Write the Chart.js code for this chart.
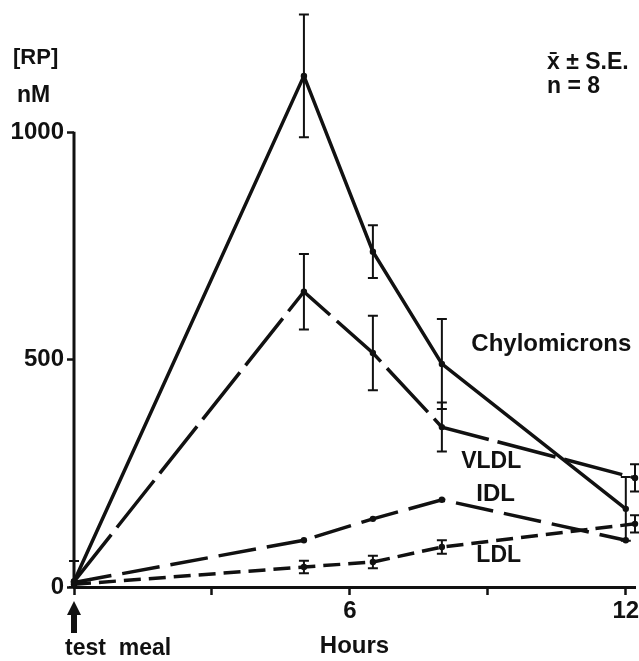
<!DOCTYPE html>
<html>
<head>
<meta charset="utf-8">
<script src="https://cdn.jsdelivr.net/npm/chart.js@4/dist/chart.umd.min.js"></script>
<style>
  body { margin: 0; background: #fff; }
  #wrap { width: 639px; height: 661px; }
</style>
</head>
<body>
<div id="wrap"><canvas id="chart" width="639" height="661"></canvas></div>
<script>
// values (hours after the test meal, RP in nM)
const chyloHours = [0, 5, 6.5, 8, 12];
const chyloValues = [12, 1125, 738, 491, 172];
const chyloErrors = [45, 135, 58, 99, 70];

const vldlHours = [0, 5, 6.5, 8, 12.2];
const vldlValues = [12, 650, 515, 352, 240];
const vldlErrors = [0, 83, 82, 54, 30];

const idlHours = [0, 5, 6.5, 8, 12];
const idlValues = [10, 103, 150, 192, 103];

const ldlHours = [0, 5, 6.5, 8, 12.2];
const ldlValues = [6, 44, 55, 88, 139];
const ldlErrors = [0, 14, 14, 15, 19];

const xTicks = [0, 3, 6, 9, 12];
const xTickLabels = [6, 12];
const yTicks = [0, 500, 1000];

const FONT = 'Liberation Sans';
const INK = '#111';

function toPoints(xs, ys) {
    return xs.map((x, i) => ({ x: x, y: ys[i] }));
}

function series(label, xs, ys, errs, dash) {
    return {
        label: label,
        data: toPoints(xs, ys),
        errors: errs,
        borderColor: INK,
        borderWidth: 3.5,
        borderDash: dash,
        pointRadius: 3.2,
        pointBackgroundColor: INK,
        pointBorderWidth: 0,
        tension: 0,
        fill: false,
        clip: false
    };
}

// vertical error bars with caps, drawn through the chart scales
const errorBars = {
    id: 'errorBars',
    afterDatasetsDraw(chart) {
        const ctx = chart.ctx;
        const xs = chart.scales.x, ys = chart.scales.y;
        ctx.save();
        ctx.strokeStyle = INK;
        ctx.lineWidth = 2;
        ctx.setLineDash([]);
        chart.data.datasets.forEach(ds => {
            if (!ds.errors) return;
            ds.data.forEach((p, i) => {
                const e = ds.errors[i];
                if (!e) return;
                const px = xs.getPixelForValue(p.x);
                const top = ys.getPixelForValue(p.y + e);
                const bot = ys.getPixelForValue(Math.max(p.y - e, 0));
                ctx.beginPath();
                ctx.moveTo(px, top); ctx.lineTo(px, bot);
                ctx.moveTo(px - 5, top); ctx.lineTo(px + 5, top);
                ctx.moveTo(px - 5, bot); ctx.lineTo(px + 5, bot);
                ctx.stroke();
            });
        });
        ctx.restore();
    }
};

// series names placed in data coordinates
const seriesNames = [
    { text: 'Chylomicrons', x: 8.64, y: 535, size: 24 },
    { text: 'VLDL', x: 8.42, y: 275, size: 23 },
    { text: 'IDL', x: 8.75, y: 203, size: 24 },
    { text: 'LDL', x: 8.75, y: 68, size: 23 }
];

const extras = {
    id: 'extras',
    afterDraw(chart) {
        const ctx = chart.ctx;
        const xs = chart.scales.x, ys = chart.scales.y;
        ctx.save();
        ctx.fillStyle = INK;
        ctx.strokeStyle = INK;

        // y axis line only up to 1000
        const x0 = xs.getPixelForValue(0);
        ctx.lineWidth = 3;
        ctx.beginPath();
        ctx.moveTo(x0, ys.getPixelForValue(0));
        ctx.lineTo(x0, ys.getPixelForValue(1000) - 1);
        ctx.stroke();

        ctx.textBaseline = 'middle';
        ctx.textAlign = 'left';
        seriesNames.forEach(n => {
            ctx.font = 'bold ' + n.size + 'px "' + FONT + '"';
            ctx.fillText(n.text, xs.getPixelForValue(n.x), ys.getPixelForValue(n.y));
        });

        ctx.font = 'bold 22px "' + FONT + '"';
        ctx.fillText('[RP]', 13, 58);
        ctx.font = 'bold 23px "' + FONT + '"';
        ctx.fillText('nM', 17, 96);

        ctx.font = 'bold 23px "' + FONT + '"';
        ctx.fillText('x\u0304 \u00b1 S.E.', 547, 63);
        ctx.fillText('n = 8', 547, 87);

        // test meal arrow under t = 0
        const base = ys.getPixelForValue(0);
        ctx.beginPath();
        ctx.moveTo(x0, base + 14);
        ctx.lineTo(x0 - 7, base + 28);
        ctx.lineTo(x0 + 7, base + 28);
        ctx.closePath();
        ctx.fill();
        ctx.fillRect(x0 - 3, base + 27, 6, 19);

        ctx.font = 'bold 23px "' + FONT + '"';
        ctx.fillText('test  meal', 65, 649);
        ctx.restore();
    }
};

const chart = new Chart(document.getElementById('chart'), {
    type: 'line',
    data: {
        datasets: [
            series('Chylomicrons', chyloHours, chyloValues, chyloErrors, []),
            series('VLDL', vldlHours, vldlValues, vldlErrors, [60, 9]),
            series('IDL', idlHours, idlValues, null, [38, 11]),
            series('LDL', ldlHours, ldlValues, ldlErrors, [17, 8])
        ]
    },
    options: {
        responsive: false,
        animation: false,
        layout: { padding: { top: 10, right: 3, left: 0, bottom: 0 } },
        plugins: { legend: { display: false }, tooltip: { enabled: false } },
        scales: {
            x: {
                type: 'linear',
                min: 0,
                max: 12.2,
                afterBuildTicks: s => { s.ticks = xTicks.map(v => ({ value: v })); },
                afterFit: s => { s.height = 74; s.paddingLeft = 0; s.paddingRight = 0; },
                ticks: {
                    autoSkip: false,
                    maxRotation: 0,
                    padding: 2,
                    color: INK,
                    font: { family: FONT, size: 24, weight: 'bold' },
                    callback: v => xTickLabels.includes(v) ? String(v) : ''
                },
                grid: { drawOnChartArea: false, tickLength: 8, tickWidth: 2.5, tickColor: INK },
                border: { display: true, width: 3, color: INK },
                title: {
                    display: true,
                    text: 'Hours',
                    color: INK,
                    font: { family: FONT, size: 24, weight: 'bold' },
                    padding: { top: 0, bottom: 0 }
                }
            },
            y: {
                min: 0,
                max: 1270,
                afterBuildTicks: s => { s.ticks = yTicks.map(v => ({ value: v })); },
                afterFit: s => { s.width = 74; s.paddingTop = 0; s.paddingBottom = 0; },
                ticks: {
                    padding: 3,
                    color: INK,
                    font: { family: FONT, size: 24, weight: 'bold' },
                    callback: v => String(v)
                },
                grid: { drawOnChartArea: false, tickLength: 7, tickWidth: 2.5, tickColor: INK },
                border: { display: false }
            }
        }
    },
    plugins: [errorBars, extras]
});
</script>
</body>
</html>
